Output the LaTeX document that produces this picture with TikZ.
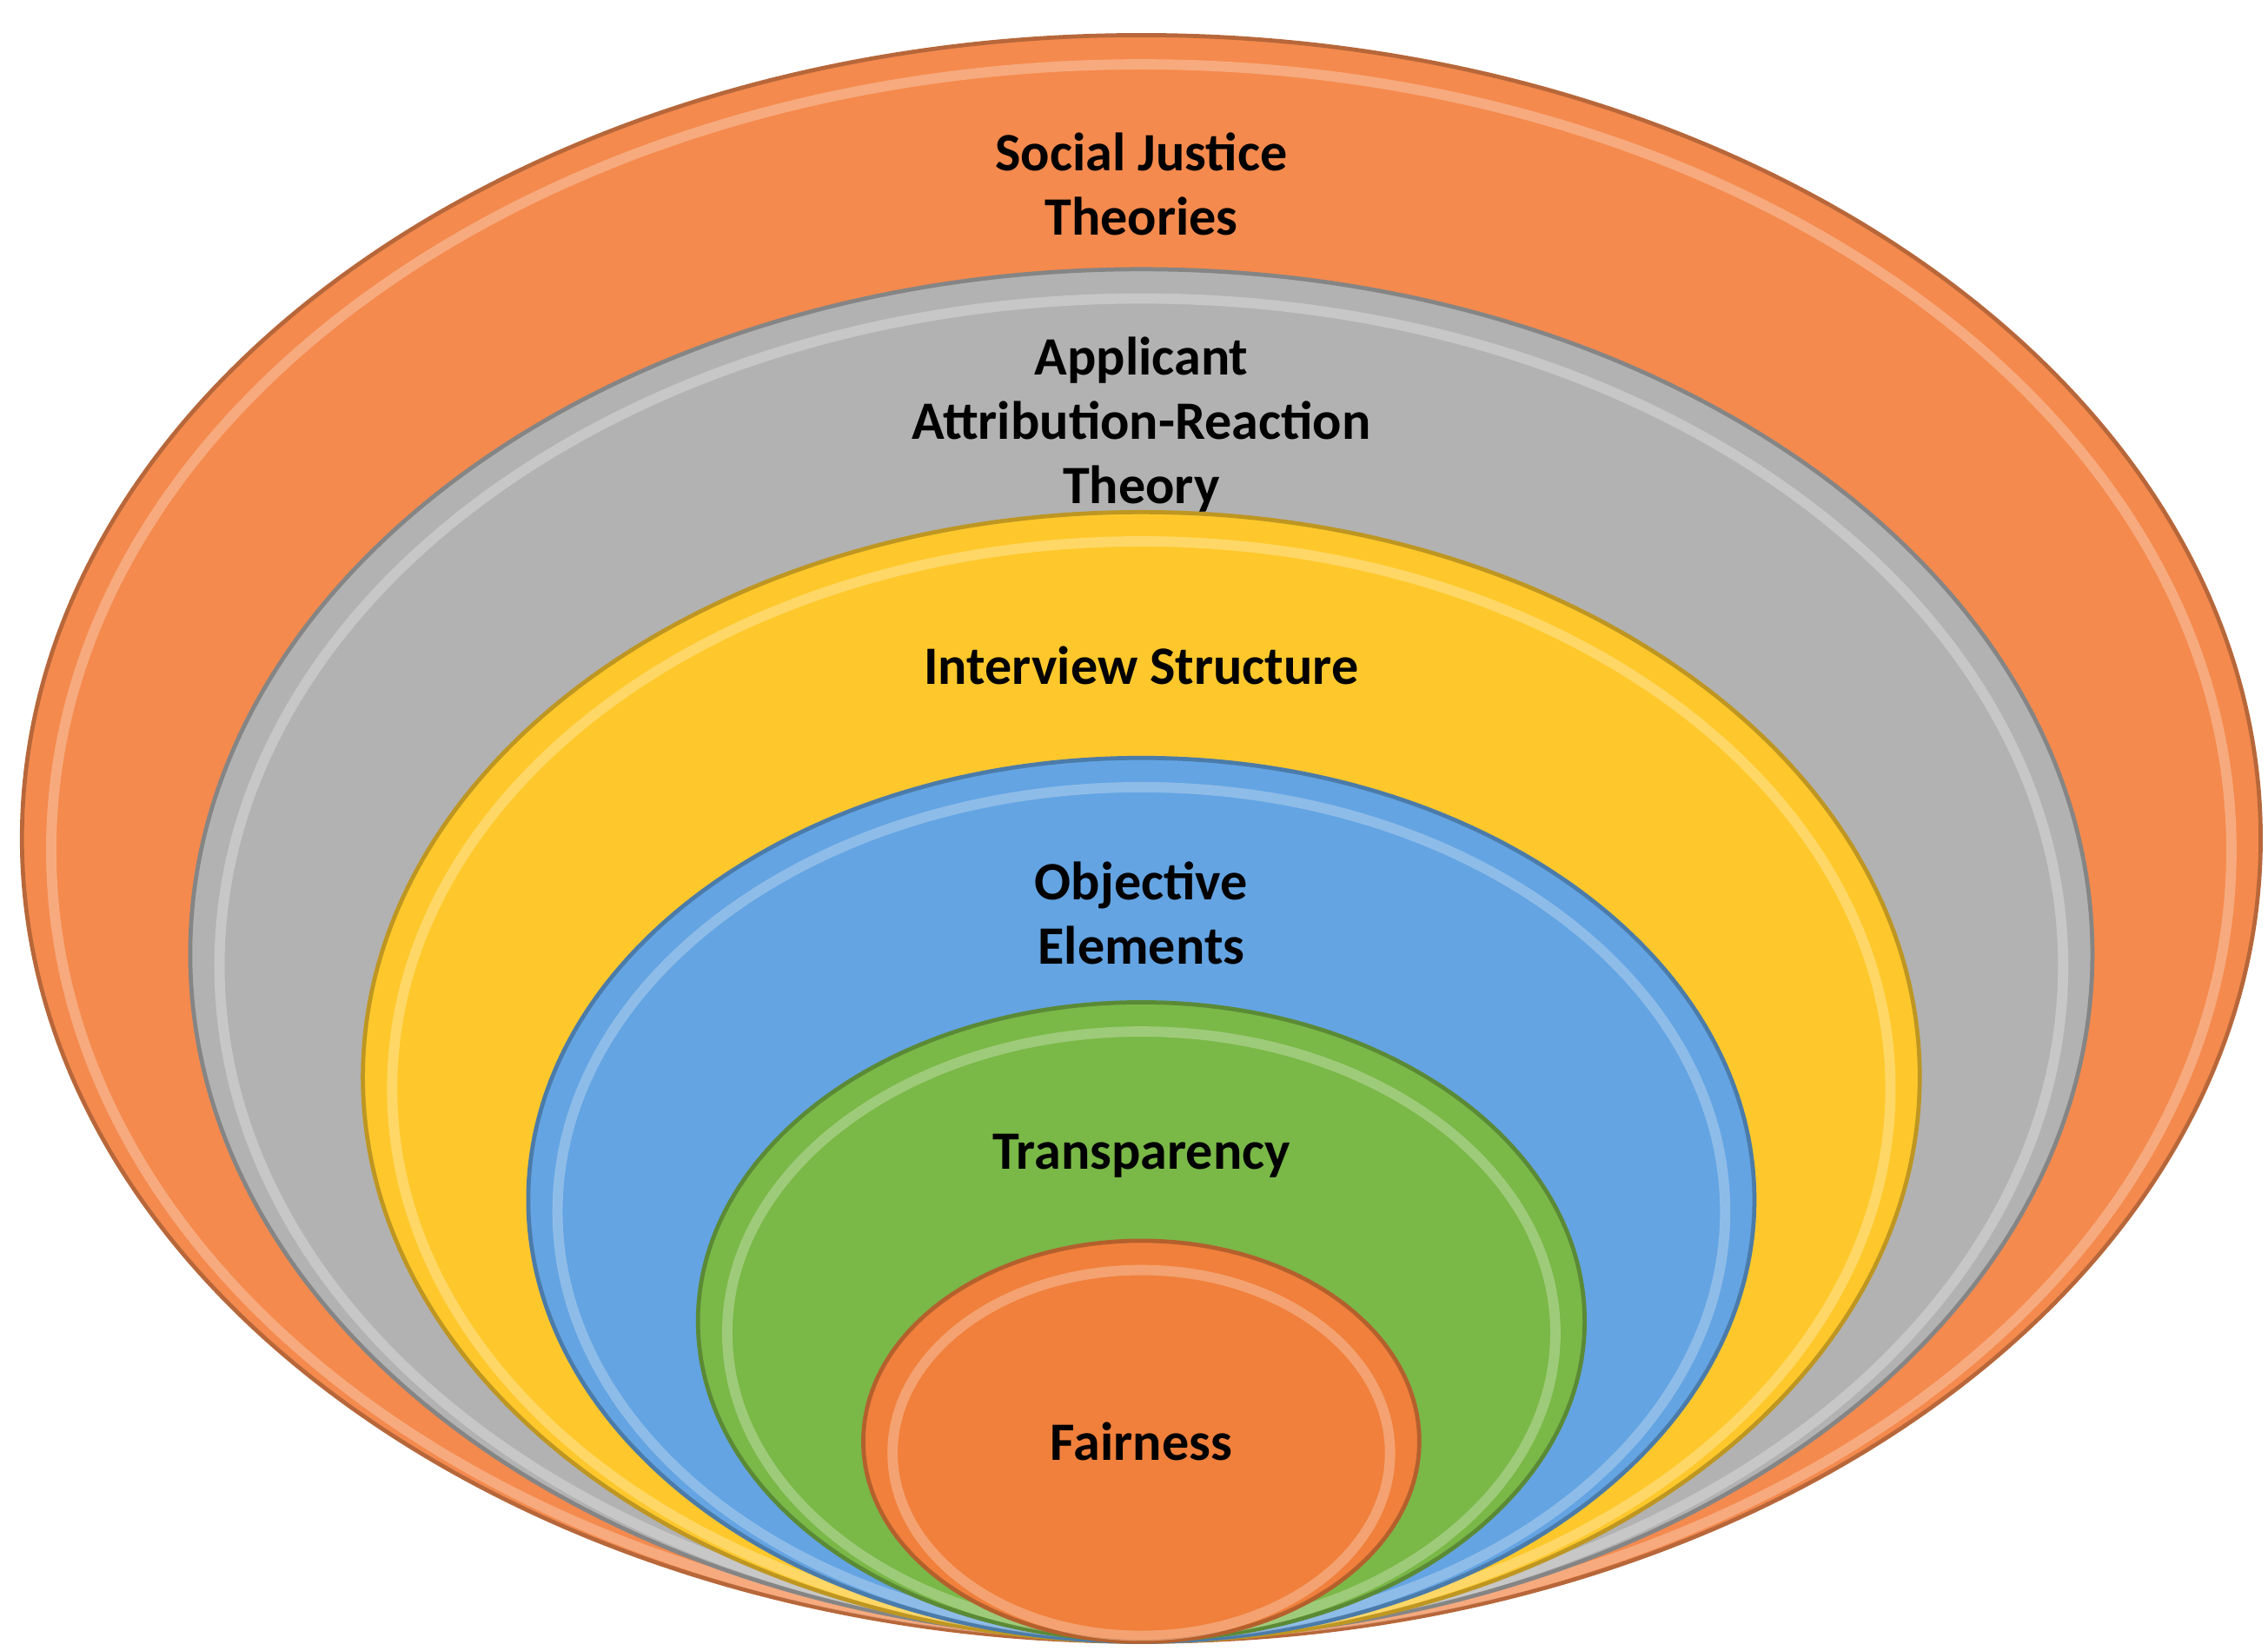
\documentclass[tikz,border=0pt]{standalone}
\usepackage{fontspec}
\setmainfont{Carlito}
\usetikzlibrary{positioning}
\definecolor{ringorange}{RGB}{244,138,78}
\definecolor{ringgray}{RGB}{178,178,178}
\definecolor{ringyellow}{RGB}{254,200,44}
\definecolor{ringblue}{RGB}{100,164,226}
\definecolor{ringgreen}{RGB}{122,184,72}
\definecolor{ringcore}{RGB}{240,128,60}
\tikzset{
  ring/.style={fill=#1, draw=#1!75!black, line width=0.8pt},
  rim/.style={draw=#1!50!white, line width=2pt, opacity=0.55},
  label/.style={font=\bfseries\fontsize{10.5}{12.5}\selectfont, align=center, text=black}
}
\begin{document}
\begin{tikzpicture}[x=0.01cm,y=-0.01cm]
  \useasboundingbox (0,0) rectangle (1550,1128);
  % rings, outer to inner: centre y, rx, ry, colour
  \foreach \cy/\rx/\ry/\col in {573/765/549/ringorange, 652/650/468/ringgray,
      736/532/386/ringyellow, 820/419/302/ringblue, 903/303/218/ringgreen,
      985/190/137/ringcore}
  {
    \draw[ring=\col] (780,\cy) ellipse [x radius=\rx, y radius=\ry];
    \draw[rim=\col] (780,\cy+8) ellipse [x radius=\rx-20, y radius=\ry-12];
  }
  \node[label] (social) at (780,126) {Social Justice\\Theories};
  \node[label] (applicant) at (780,290) {Applicant\\Attribution-Reaction\\Theory};
  \node[label] (interview) at (780,455) {Interview Structure};
  \node[label] (objective) at (780,624) {Objective\\Elements};
  \node[label] (transparency) at (780,790) {Transparency};
  \node[label] (fairness) at (780,985) {Fairness};
\end{tikzpicture}
\end{document}
